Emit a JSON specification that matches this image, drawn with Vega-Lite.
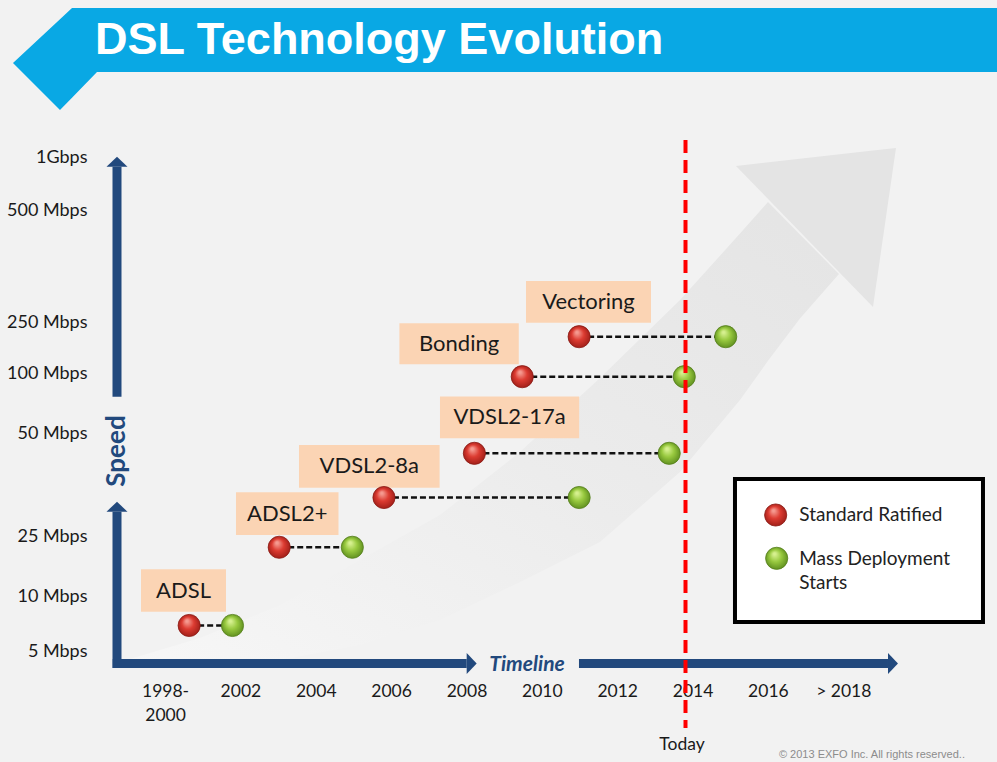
{
  "$schema": "https://vega.github.io/schema/vega-lite/v6.json",
  "width": 997,
  "height": 762,
  "padding": 0,
  "autosize": {"type": "none"},
  "background": "#F2F2F2",
  "config": {"view": {"stroke": null}, "text": {"font": "Lato"}},
  "datasets": {
    "banner": [
      {"x": 1995.965, "top": 1598.7, "bottom": 1598.7},
      {"x": 1997.212, "top": 1877.7, "bottom": 1299.4},
      {"x": 1997.531, "top": 1949.0, "bottom": 1377.7},
      {"x": 1998.194, "top": 1949.0, "bottom": 1541.4},
      {"x": 2022.08, "top": 1949.0, "bottom": 1541.4}
    ],
    "swooshBody": [
      {"x": 1998.805, "top": 4.505, "bottom": 4.279},
      {"x": 2000.928, "top": 6.182, "bottom": 4.279},
      {"x": 2003.051, "top": 9.182, "bottom": 4.595},
      {"x": 2005.174, "top": 19.0, "bottom": 5.545},
      {"x": 2007.297, "top": 30.097, "bottom": 7.818},
      {"x": 2009.42, "top": 45.364, "bottom": 13.5},
      {"x": 2011.543, "top": 95.917, "bottom": 23.5},
      {"x": 2013.667, "top": 299.107, "bottom": 40.534},
      {"x": 2015.259, "top": 447.321, "bottom": 77.5},
      {"x": 2016.002, "top": 575.472, "bottom": 135.882},
      {"x": 2016.851, "top": 445.313, "bottom": 257.589},
      {"x": 2017.886, "top": 357.143, "bottom": 357.143}
    ],
    "swooshHead": [
      {"x": 2015.153, "top": 915.094, "bottom": 915.094},
      {"x": 2018.789, "top": 1040.76, "bottom": 283.482},
      {"x": 2019.399, "top": 1057.32, "bottom": 1057.32}
    ],
    "shafts": [
      {"part": "speed upper", "x0": 1998.725, "x1": 1998.725, "y0": 80.25, "y1": 908.49},
      {"part": "speed lower", "x0": 1998.725, "x1": 1998.725, "y0": 4.234, "y1": 30.898},
      {"part": "timeline left", "x0": 1998.611, "x1": 2008.006, "y0": 4.437, "y1": 4.437},
      {"part": "timeline right", "x0": 2010.986, "x1": 2019.187, "y0": 4.437, "y1": 4.437}
    ],
    "heads": [
      {"dir": "up", "x": 1998.725, "y": 908.49},
      {"dir": "up", "x": 1998.725, "y": 30.898},
      {"dir": "right", "x": 2008.006, "y": 4.437},
      {"dir": "right", "x": 2019.187, "y": 4.437}
    ],
    "techs": [
      {"tech": "ADSL", "ratified": 2000.64, "deployed": 2001.79, "speed": 7.32},
      {"tech": "ADSL2+", "ratified": 2003.03, "deployed": 2004.97, "speed": 22.18},
      {"tech": "VDSL2-8a", "ratified": 2005.81, "deployed": 2010.99, "speed": 34.34},
      {"tech": "VDSL2-17a", "ratified": 2008.21, "deployed": 2013.38, "speed": 45.07},
      {"tech": "Bonding", "ratified": 2009.48, "deployed": 2013.78, "speed": 96.92},
      {"tech": "Vectoring", "ratified": 2010.99, "deployed": 2014.88, "speed": 206.76}
    ],
    "labels": [
      {"tech": "ADSL", "x0": 1999.362, "x1": 2001.618, "top": 16.675, "bottom": 8.573, "tx": 2000.49, "ty": 11.375},
      {"tech": "ADSL2+", "x0": 2001.883, "x1": 2004.604, "top": 35.607, "bottom": 25.243, "tx": 2003.243, "ty": 30.425},
      {"tech": "VDSL2-8a", "x0": 2003.555, "x1": 2007.287, "top": 47.087, "bottom": 36.723, "tx": 2005.421, "ty": 41.905},
      {"tech": "VDSL2-17a", "x0": 2007.297, "x1": 2010.991, "top": 80.417, "bottom": 48.714, "tx": 2009.144, "ty": 63.0},
      {"tech": "Bonding", "x0": 2006.22, "x1": 2009.388, "top": 246.18, "bottom": 125.88, "tx": 2007.804, "ty": 186.03},
      {"tech": "Vectoring", "x0": 2009.58, "x1": 2012.897, "top": 341.52, "bottom": 247.94, "tx": 2011.238, "ty": 294.98}
    ],
    "legendBox": [
      {"x0": 2015.126, "x1": 2021.708, "top": 38.835, "bottom": 7.636}
    ],
    "legendItems": [
      {"stage": "Standard Ratified", "label": "Standard Ratified", "sx": 2016.206, "sy": 30.097, "tx": 2016.832, "ty": 30.097},
      {"stage": "Mass Deployment Starts", "label": "Mass Deployment\nStarts", "sx": 2016.233, "sy": 19.425, "tx": 2016.832, "ty": 19.175}
    ]
  },
  "layer": [
    {
      "data": {"name": "banner"},
      "mark": {"type": "area", "orient": "vertical", "color": "#09A8E4"},
      "encoding": {
        "x": {
          "field": "x", "type": "quantitative",
          "scale": {"domain": [1995.62, 2022.08], "nice": false, "zero": false},
          "axis": {
            "values": [2000, 2002, 2004, 2006, 2008, 2010, 2012, 2014, 2016, 2018],
            "format": "d",
            "labelExpr": "datum.value == 2000 ? ['1998-', '2000'] : datum.value == 2018 ? '> 2018' : datum.label",
            "orient": "bottom", "offset": -99, "domain": false, "ticks": false, "tickSize": 0, "grid": false,
            "labelPadding": 19, "labelFont": "Lato", "labelFontSize": 17.5, "labelColor": "#1a1a1a",
            "labelLineHeight": 24, "labelOverlap": false, "labelBound": false, "labelFlush": false, "title": null
          }
        },
        "y": {
          "field": "top", "type": "quantitative",
          "scale": {"domain": [0, 5, 10, 25, 50, 100, 250, 500, 1000, 2000], "range": [762, 651, 596, 536, 433, 373, 322, 210, 157, 0], "nice": false, "zero": false},
          "axis": {
            "values": [5, 10, 25, 50, 100, 250, 500, 1000],
            "labelExpr": "datum.value >= 1000 ? '1Gbps' : datum.value + ' Mbps'",
            "orient": "left", "offset": -117, "domain": false, "ticks": false, "tickSize": 0, "grid": false,
            "labelPadding": 30, "labelFont": "Lato", "labelFontSize": 18, "labelColor": "#1a1a1a",
            "labelOverlap": false, "labelBound": false, "labelFlush": false, "title": null
          }
        },
        "y2": {"field": "bottom"}
      }
    },
    {
      "data": {"values": [{"t": "DSL Technology Evolution", "x": 1998.141, "y": 1654.1}]},
      "mark": {"type": "text", "align": "left", "baseline": "alphabetic", "font": "Liberation Sans", "fontSize": 45, "fontWeight": "bold", "color": "#FFFFFF"},
      "encoding": {
        "x": {"field": "x", "type": "quantitative"},
        "y": {"field": "y", "type": "quantitative"},
        "text": {"field": "t"}
      }
    },
    {
      "data": {"name": "swooshBody"},
      "mark": {"type": "area", "orient": "vertical", "color": {"gradient": "linear", "x1": 0, "y1": 1, "x2": 1, "y2": 0, "stops": [{"offset": 0, "color": "#F7F7F7"}, {"offset": 0.5, "color": "#ECECEC"}, {"offset": 1, "color": "#E4E4E4"}]}},
      "encoding": {
        "x": {"field": "x", "type": "quantitative"},
        "y": {"field": "top", "type": "quantitative"},
        "y2": {"field": "bottom"}
      }
    },
    {
      "data": {"name": "swooshHead"},
      "mark": {"type": "area", "orient": "vertical", "color": "#E4E4E4"},
      "encoding": {
        "x": {"field": "x", "type": "quantitative"},
        "y": {"field": "top", "type": "quantitative"},
        "y2": {"field": "bottom"}
      }
    },
    {
      "data": {"name": "shafts"},
      "mark": {"type": "rule", "color": "#22497D", "strokeWidth": 9, "strokeCap": "butt"},
      "encoding": {
        "x": {"field": "x0", "type": "quantitative"},
        "x2": {"field": "x1"},
        "y": {"field": "y0", "type": "quantitative"},
        "y2": {"field": "y1"}
      }
    },
    {
      "data": {"name": "heads"},
      "mark": {"type": "point", "filled": true, "color": "#22497D", "size": 441, "opacity": 1, "strokeWidth": 0},
      "encoding": {
        "x": {"field": "x", "type": "quantitative"},
        "y": {"field": "y", "type": "quantitative"},
        "shape": {"field": "dir", "type": "nominal", "scale": {"domain": ["up", "right"], "range": ["M-1,0L1,0L0,-0.95Z", "M0,-1L0,1L0.95,0Z"]}, "legend": null}
      }
    },
    {
      "data": {"values": [{"t": "Speed", "x": 1998.725, "y": 45.63}]},
      "mark": {"type": "text", "angle": 270, "font": "Lato", "fontSize": 26, "fontWeight": "bold", "color": "#22497D", "align": "center", "baseline": "middle"},
      "encoding": {
        "x": {"field": "x", "type": "quantitative"},
        "y": {"field": "y", "type": "quantitative"},
        "text": {"field": "t"}
      }
    },
    {
      "data": {"values": [{"t": "Timeline", "x": 2009.606, "y": 4.369}]},
      "mark": {"type": "text", "font": "Lato", "fontSize": 21, "fontWeight": "bold", "fontStyle": "italic", "color": "#22497D", "align": "center", "baseline": "middle"},
      "encoding": {
        "x": {"field": "x", "type": "quantitative"},
        "y": {"field": "y", "type": "quantitative"},
        "text": {"field": "t"}
      }
    },
    {
      "data": {"name": "labels"},
      "mark": {"type": "rect", "color": "#FBD4B4"},
      "encoding": {
        "x": {"field": "x0", "type": "quantitative"},
        "x2": {"field": "x1"},
        "y": {"field": "top", "type": "quantitative"},
        "y2": {"field": "bottom"}
      }
    },
    {
      "data": {"name": "labels"},
      "mark": {"type": "text", "font": "Lato", "fontSize": 22, "color": "#1a1a1a", "align": "center", "baseline": "middle"},
      "encoding": {
        "x": {"field": "tx", "type": "quantitative"},
        "y": {"field": "ty", "type": "quantitative"},
        "text": {"field": "tech"}
      }
    },
    {
      "data": {"name": "techs"},
      "mark": {"type": "rule", "color": "#111111", "strokeWidth": 2.5, "strokeDash": [6, 3]},
      "encoding": {
        "x": {"field": "ratified", "type": "quantitative"},
        "x2": {"field": "deployed"},
        "y": {"field": "speed", "type": "quantitative"}
      }
    },
    {
      "data": {"name": "techs"},
      "mark": {"type": "point", "filled": true, "size": 491, "opacity": 1, "stroke": "#8A1A14", "strokeWidth": 0.8,
        "fill": {"gradient": "radial", "x1": 0.4, "y1": 0.3, "r1": 0.05, "x2": 0.5, "y2": 0.5, "r2": 0.55, "stops": [{"offset": 0, "color": "#F59A90"}, {"offset": 0.45, "color": "#DC3B31"}, {"offset": 1, "color": "#9A1C16"}]}},
      "encoding": {
        "x": {"field": "ratified", "type": "quantitative"},
        "y": {"field": "speed", "type": "quantitative"}
      }
    },
    {
      "data": {"name": "techs"},
      "mark": {"type": "point", "filled": true, "size": 491, "opacity": 1, "stroke": "#557F1C", "strokeWidth": 0.8,
        "fill": {"gradient": "radial", "x1": 0.4, "y1": 0.3, "r1": 0.05, "x2": 0.5, "y2": 0.5, "r2": 0.55, "stops": [{"offset": 0, "color": "#D6F08F"}, {"offset": 0.45, "color": "#98C93F"}, {"offset": 1, "color": "#5A8A1C"}]}},
      "encoding": {
        "x": {"field": "deployed", "type": "quantitative"},
        "y": {"field": "speed", "type": "quantitative"}
      }
    },
    {
      "data": {"name": "legendBox"},
      "mark": {"type": "rect", "fill": "#FFFFFF", "stroke": "#000000", "strokeWidth": 4},
      "encoding": {
        "x": {"field": "x0", "type": "quantitative"},
        "x2": {"field": "x1"},
        "y": {"field": "top", "type": "quantitative"},
        "y2": {"field": "bottom"}
      }
    },
    {
      "data": {"name": "legendItems"},
      "transform": [{"filter": "datum.stage == 'Standard Ratified'"}],
      "mark": {"type": "point", "filled": true, "size": 491, "opacity": 1, "stroke": "#8A1A14", "strokeWidth": 0.8,
        "fill": {"gradient": "radial", "x1": 0.4, "y1": 0.3, "r1": 0.05, "x2": 0.5, "y2": 0.5, "r2": 0.55, "stops": [{"offset": 0, "color": "#F59A90"}, {"offset": 0.45, "color": "#DC3B31"}, {"offset": 1, "color": "#9A1C16"}]}},
      "encoding": {
        "x": {"field": "sx", "type": "quantitative"},
        "y": {"field": "sy", "type": "quantitative"}
      }
    },
    {
      "data": {"name": "legendItems"},
      "transform": [{"filter": "datum.stage == 'Mass Deployment Starts'"}],
      "mark": {"type": "point", "filled": true, "size": 491, "opacity": 1, "stroke": "#557F1C", "strokeWidth": 0.8,
        "fill": {"gradient": "radial", "x1": 0.4, "y1": 0.3, "r1": 0.05, "x2": 0.5, "y2": 0.5, "r2": 0.55, "stops": [{"offset": 0, "color": "#D6F08F"}, {"offset": 0.45, "color": "#98C93F"}, {"offset": 1, "color": "#5A8A1C"}]}},
      "encoding": {
        "x": {"field": "sx", "type": "quantitative"},
        "y": {"field": "sy", "type": "quantitative"}
      }
    },
    {
      "data": {"name": "legendItems"},
      "mark": {"type": "text", "font": "Lato", "fontSize": 19, "color": "#222222", "align": "left", "baseline": "middle", "lineBreak": "\n", "lineHeight": 24},
      "encoding": {
        "x": {"field": "tx", "type": "quantitative"},
        "y": {"field": "ty", "type": "quantitative"},
        "text": {"field": "label"}
      }
    },
    {
      "data": {"values": [{"event": "Today", "year": 2013.813, "from": 1108.28, "to": 1.532}]},
      "mark": {"type": "rule", "color": "#FF0000", "strokeWidth": 4, "strokeDash": [13, 7]},
      "encoding": {
        "x": {"field": "year", "type": "quantitative"},
        "y": {"field": "from", "type": "quantitative"},
        "y2": {"field": "to"}
      }
    },
    {
      "data": {"values": [{"t": "Today", "x": 2013.72, "y": 0.766}]},
      "mark": {"type": "text", "font": "Lato", "fontSize": 17.5, "color": "#1a1a1a", "align": "center", "baseline": "middle"},
      "encoding": {
        "x": {"field": "x", "type": "quantitative"},
        "y": {"field": "y", "type": "quantitative"},
        "text": {"field": "t"}
      }
    },
    {
      "data": {"values": [{"t": "© 2013 EXFO Inc. All rights reserved..", "x": 2021.23, "y": 0.315}]},
      "mark": {"type": "text", "font": "Liberation Sans", "fontSize": 11, "color": "#8C8C8C", "align": "right", "baseline": "middle"},
      "encoding": {
        "x": {"field": "x", "type": "quantitative"},
        "y": {"field": "y", "type": "quantitative"},
        "text": {"field": "t"}
      }
    }
  ]
}
